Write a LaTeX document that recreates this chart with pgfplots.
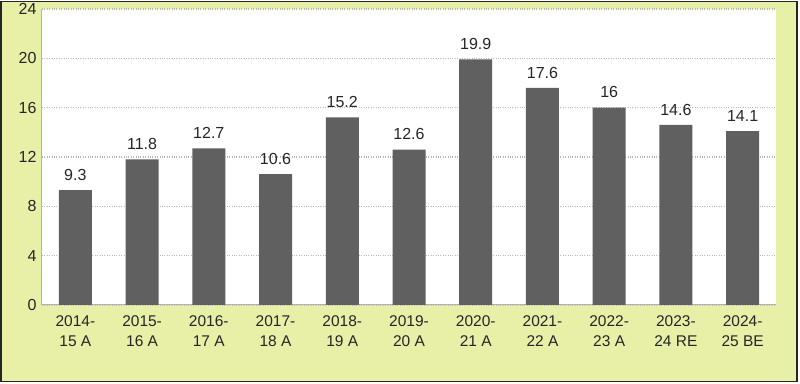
\documentclass[border=0pt]{standalone}
\usepackage{pgfplots}
\pgfplotsset{compat=1.18}
\usepackage{fontspec}
\setmainfont{Liberation Sans}
\definecolor{bg}{HTML}{E8F0A8}
\definecolor{bar}{HTML}{606060}
\begin{document}
\begin{tikzpicture}[x=1pt,y=1pt]
\fill[white] (0,0) rectangle (800,383);
\fill[bg] (0,2) rectangle (797,383);
\draw[black!85,line width=1.5pt] (0.75,2.5) rectangle (797,382.25);
\begin{axis}[
  at={(42pt,79pt)}, anchor=south west,
  scale only axis, width=734pt, height=296pt,
  xmin=-0.5, xmax=10.5, ymin=0, ymax=24,
  ytick={0,4,...,24},
  xtick=data,
  xticklabels={{2014-\\15 A},{2015-\\16 A},{2016-\\17 A},{2017-\\18 A},{2018-\\19 A},{2019-\\20 A},{2020-\\21 A},{2021-\\22 A},{2022-\\23 A},{2023-\\24 RE},{2024-\\25 BE}},
  xticklabel style={align=center, font=\fontsize{15.5}{19.5}\selectfont, inner sep=1pt, yshift=-10pt, text=black!85},
  yticklabel style={font=\fontsize{16}{18}\selectfont, text=black!85, xshift=-2pt},
  /pgf/number format/assume math mode=true,
  axis background/.style={fill=white},
  axis line style={gray!60, line width=1pt},
  axis x line*=bottom, axis y line*=left,
  major tick length=0pt,
  ymajorgrids, grid style={gray!55, dotted, line width=1.2pt},
  ybar, bar width=33pt,
  nodes near coords,
  nodes near coords style={font=\fontsize{16}{18}\selectfont, text=black!85, /pgf/number format/assume math mode=true, yshift=6pt},
  clip=false,
]
\addplot[fill=bar, draw=none] coordinates {(0,9.3) (1,11.8) (2,12.7) (3,10.6) (4,15.2) (5,12.6) (6,19.9) (7,17.6) (8,16) (9,14.6) (10,14.1)};
\end{axis}
\end{tikzpicture}
\end{document}
